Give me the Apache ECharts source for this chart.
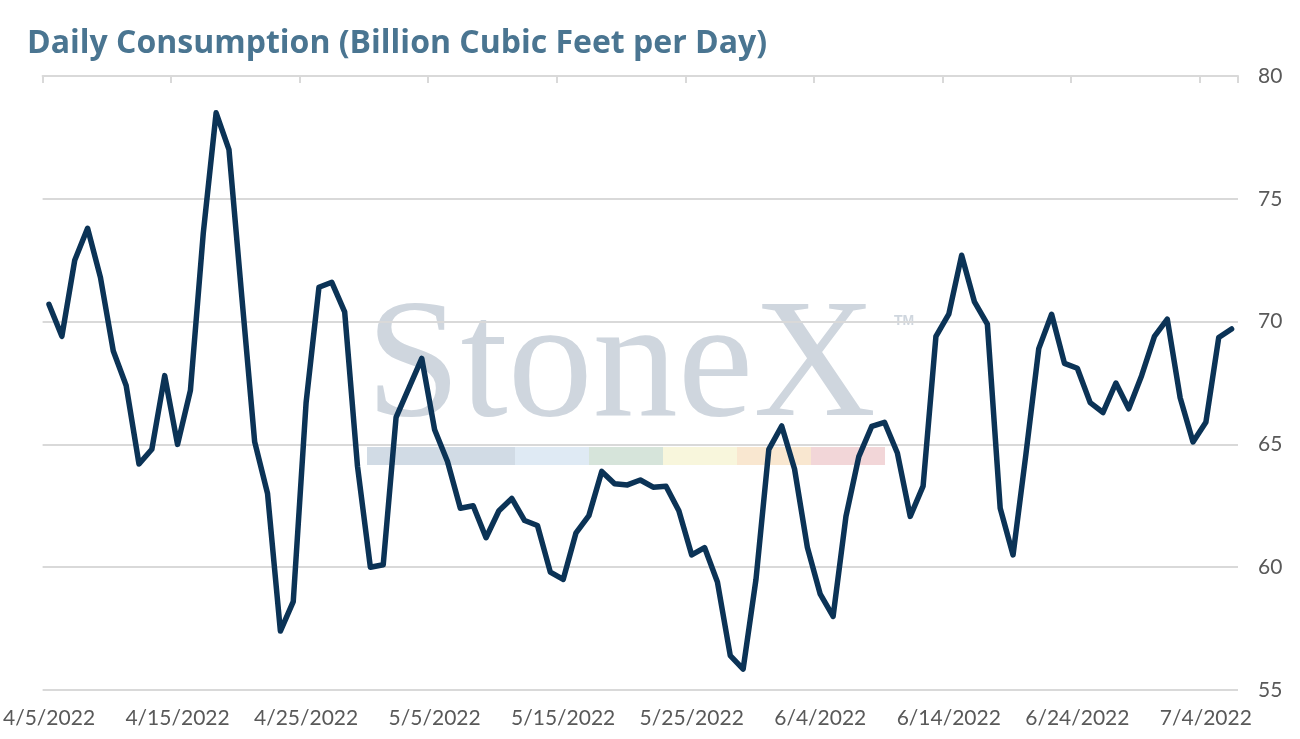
<!DOCTYPE html>
<html>
<head>
<meta charset="utf-8">
<script src="https://cdn.jsdelivr.net/npm/echarts@6/dist/echarts.min.js"></script>
<style>
  html, body { margin: 0; padding: 0; background: #fff; }
  #chart { width: 1300px; height: 739px; }
</style>
</head>
<body>
<div id="chart"></div>
<script>
// daily dates 4/5/2022 .. 7/6/2022
var startDate = new Date(2022, 3, 5);
var dayCount = 93;
var dates = [];
for (var d = 0; d < dayCount; d++) {
  var dt = new Date(startDate.getFullYear(), startDate.getMonth(), startDate.getDate() + d);
  dates.push((dt.getMonth() + 1) + '/' + dt.getDate() + '/' + dt.getFullYear());
}

// Bcf/d
var consumption = [
  70.7, 69.4, 72.5, 73.8, 71.8, 68.8, 67.4, 64.2, 64.8, 67.8,
  65.0, 67.2, 73.6, 78.5, 77.0, 71.0, 65.1, 63.0, 57.4, 58.6,
  66.7, 71.4, 71.6, 70.4, 64.1, 60.0, 60.1, 66.1, 67.3, 68.5,
  65.6, 64.3, 62.4, 62.5, 61.2, 62.3, 62.8, 61.9, 61.7, 59.8,
  59.5, 61.4, 62.1, 63.9, 63.4, 63.35, 63.55, 63.26, 63.3, 62.3,
  60.5, 60.8, 59.4, 56.4, 55.85, 59.5, 64.8, 65.75, 64.0, 60.8,
  58.9, 58.0, 62.07, 64.5, 65.73, 65.9, 64.65, 62.07, 63.3, 69.4,
  70.3, 72.7, 70.8, 69.9, 62.4, 60.5, 64.6, 68.9, 70.3, 68.3,
  68.1, 66.7, 66.3, 67.5, 66.45, 67.8, 69.4, 70.1, 66.9, 65.1,
  65.9, 69.35, 69.7
];

var yTicks = [55, 60, 65, 70, 75, 80];

// watermark colour strip
var stripColors = ['#d1dbe5', '#dfeaf4', '#d6e4da', '#f8f6dc', '#f9e7d0', '#f2d6d8'];
var stripWidths = [148, 74, 74, 74, 74, 74];

var chart = echarts.init(document.getElementById('chart'));

var stripEls = [];
var sx = 367;
stripColors.forEach(function (c, i) {
  stripEls.push({
    type: 'rect', left: sx, top: 447, z: -1,
    shape: { width: stripWidths[i], height: 18 },
    style: { fill: c }
  });
  sx += stripWidths[i];
});

var option = {
  backgroundColor: '#ffffff',
  animation: false,
  title: {
    text: 'Daily Consumption (Billion Cubic Feet per Day)',
    left: 22, top: 23,
    textStyle: { color: '#4a7591', fontSize: 32, fontWeight: 'bold', fontFamily: 'Open Sans' }
  },
  grid: { left: 41, right: 62, top: 76, bottom: 49 },
  graphic: [
    {
      type: 'text', left: 366, top: 285, z: -1,
      style: { text: 'StoneX', fill: '#cfd6de', font: '170px "Liberation Serif"' }
    },
    {
      type: 'text', left: 894, top: 314, z: -1,
      style: { text: 'TM', fill: '#cfd6de', font: 'bold 14px "Liberation Sans"' }
    }
  ].concat(stripEls),
  xAxis: [
    {
      type: 'category',
      data: dates,
      boundaryGap: true,
      position: 'bottom',
      axisLine: { show: false },
      axisTick: { show: false },
      axisLabel: {
        interval: 9, margin: 18,
        color: '#595959', fontSize: 21, fontFamily: 'Lato'
      }
    },
    {
      type: 'category',
      data: dates,
      boundaryGap: true,
      position: 'top',
      axisLine: { show: true, lineStyle: { color: '#d9d9d9', width: 2 } },
      axisTick: { show: true, inside: true, interval: 9, length: 7, lineStyle: { color: '#d9d9d9', width: 2 } },
      axisLabel: { show: false }
    }
  ],
  yAxis: {
    type: 'value',
    position: 'right',
    min: yTicks[0],
    max: yTicks[yTicks.length - 1],
    interval: 5,
    axisLine: { show: false },
    axisTick: { show: false },
    splitLine: { lineStyle: { color: '#d9d9d9', width: 2 } },
    axisLabel: { margin: 20, color: '#595959', fontSize: 21, fontFamily: 'Lato' }
  },
  series: [{
    type: 'line',
    data: consumption,
    xAxisIndex: 0,
    showSymbol: false,
    z: 5,
    lineStyle: { color: '#0b3356', width: 5.5, join: 'round', cap: 'round' }
  }]
};

chart.setOption(option);
</script>
</body>
</html>
